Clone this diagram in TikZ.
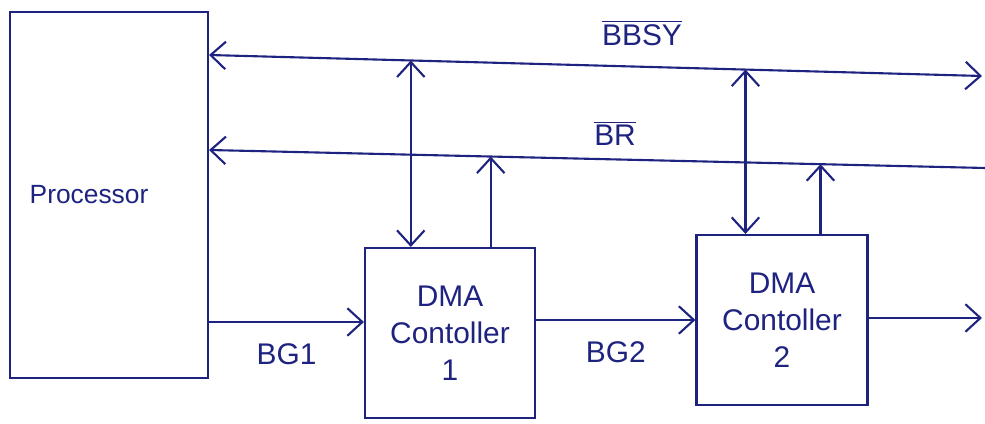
\documentclass[tikz,border=0pt]{standalone}
\usepackage{fontspec}
\setmainfont{Liberation Sans}
\usepackage{xcolor}
\usepackage{tikz}
\usetikzlibrary{positioning,arrows.meta,calc}
\definecolor{inkblue}{HTML}{1F2380}
\tikzset{
  blk/.style={draw=inkblue,line width=1.2pt,align=center,text=inkblue,font=\fontsize{17}{21}\selectfont},
  lbl/.style={text=inkblue,font=\fontsize{17}{21}\selectfont},
  arr/.style={-{Straight Barb[length=3mm,width=5.5mm]},line width=1.2pt,draw=inkblue},
  biarr/.style={{Straight Barb[length=3mm,width=5.5mm]}-{Straight Barb[length=3mm,width=5.5mm]},line width=1.2pt,draw=inkblue},
  bus/.style={line width=1.2pt,draw=inkblue},
}

\begin{document}
\begin{tikzpicture}[x=0.2mm,y=-0.2mm]
\useasboundingbox (0,0) rectangle (985,424);
\node[blk, minimum width=198*0.2mm, minimum height=366*0.2mm, font=\fontsize{15}{18}\selectfont] (proc) at (109,195) {Processor\hspace*{8mm}};
\node[blk, minimum width=170*0.2mm, minimum height=170*0.2mm] (dma1) at (450,333) {DMA\\Contoller\\1};
\node[blk, minimum width=171*0.2mm, minimum height=170*0.2mm] (dma2) at (782,320) {DMA\\Contoller\\2};
% bus lines
\coordinate (bbsyR) at (982,76);
\coordinate (brR) at (985,168);
\draw[biarr] (proc.east |- 0,55) -- coordinate[pos=0.261] (b1) coordinate[pos=0.694] (b2) (bbsyR);
\draw[bus, {Straight Barb[length=3mm,width=5.5mm]}-] (proc.east |- 0,150) -- coordinate[pos=0.363] (r1) coordinate[pos=0.788] (r2) (brR);
\node[lbl] (bbsy) at (642,33) {$\overline{\hbox{BBSY}}$};
\node[lbl] (br) at (615,133) {$\overline{\hbox{BR}}$};
% controller links
\draw[biarr] (b1) -- (b1 |- dma1.north);
\draw[arr] (r1 |- dma1.north) -- (r1);
\draw[biarr] (b2) -- (b2 |- dma2.north);
\draw[arr] (r2 |- dma2.north) -- (r2);
% grant chain
\coordinate (out) at (982,318);
\draw[arr] (proc.east |- 0,322) -- node[lbl, below=3mm] (bg1) {BG1} (dma1.west |- 0,322);
\draw[arr] (dma1.east |- 0,320) -- node[lbl, below=3mm] (bg2) {BG2} (dma2.west |- 0,320);
\draw[arr] (dma2.east |- out) -- (out);
\end{tikzpicture}
\end{document}
